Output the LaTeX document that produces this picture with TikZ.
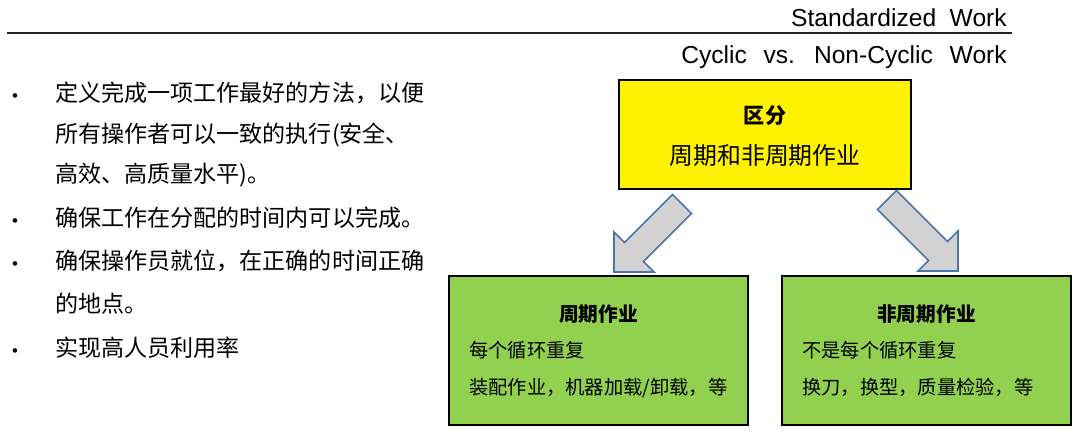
\documentclass[tikz,border=0pt]{standalone}
\usepackage{fontspec}
\setmainfont{Liberation Sans}
\newfontfamily\cjk{Noto Sans CJK SC}
\usepackage{tikz}

\definecolor{boxgreen}{RGB}{146,208,80}
\definecolor{arrowblue}{RGB}{74,118,168}
\newcommand\widesp[1]{\spaceskip=#1 plus 0pt\relax}

\begin{document}
\begin{tikzpicture}[
    x=0.025cm, y=-0.025cm,
    headtxt/.style={
        anchor=base east,
        inner sep=0pt,
        font=\fontsize{17.5}{21}\selectfont
    },
    item/.style={
        anchor=base west,
        inner sep=0pt,
        font=\cjk\fontsize{16.4}{20}\selectfont
    },
    dot/.style={
        anchor=base,
        inner sep=0pt,
        font=\fontsize{12}{14}\selectfont
    },
    topbox/.style={
        rectangle,
        draw=black,
        line width=1.4pt,
        fill=yellow,
        minimum width=7.3cm,
        minimum height=2.725cm
    },
    workbox/.style={
        rectangle,
        draw=black,
        line width=1.4pt,
        fill=boxgreen,
        minimum width=#1,
        minimum height=3.725cm
    },
    boxtitle/.style={
        anchor=base,
        inner sep=0pt,
        font=\cjk\bfseries\fontsize{14}{17}\selectfont
    },
    boxline/.style={
        anchor=base west,
        inner sep=0pt,
        font=\cjk\fontsize{13.7}{17}\selectfont
    },
    blockarr/.style={
        draw=arrowblue,
        line width=1.1pt,
        fill=gray!35
    }
]
\useasboundingbox (0,0) rectangle (1080,434);

% --- header ---
\node[headtxt] (title) at (1007,26) {\widesp{0.55em}Standardized Work};
\coordinate (rule west) at (7,33);
\coordinate (rule east) at (1012,33);
\draw[line width=1.3pt, black!85] (rule west) -- (rule east);
\node[headtxt] (subtitle) at (1007,63) {\widesp{0.68em}Cyclic vs. Non-Cyclic Work};

% --- bullet list ---
\node[dot] (b1) at (15,101) {•};
\node[item] (l1a) at (55,101) {定义完成一项工作最好的方法，以便};
\node[item] (l1b) at (55,142) {所有操作者可以一致的执行(安全、};
\node[item] (l1c) at (55,182) {高效、高质量水平)。};

\node[dot] (b2) at (15,226) {•};
\node[item] (l2a) at (55,226) {确保工作在分配的时间内可以完成。};

\node[dot] (b3) at (15,269) {•};
\node[item] (l3a) at (55,269) {确保操作员就位，在正确的时间正确};
\node[item] (l3b) at (55,312) {的地点。};

\node[dot] (b4) at (15,356) {•};
\node[item] (l4a) at (55,356) {实现高人员利用率};

% --- top box ---
\node[topbox] (split) at (765,134.5) {};
\node[anchor=base, inner sep=0pt, font=\cjk\bfseries\fontsize{15}{18}\selectfont] (splithead) at (765,123) {区分};
\node[anchor=base, inner sep=0pt, font=\cjk\fontsize{17}{20}\selectfont] (splittxt) at (765,164) {周期和非周期作业};

% --- block arrows ---
\coordinate (ltip) at (614,272);
\draw[blockarr] (ltip) -- ++(0,-40) -- ++(10.5,10.5) -- ++(48,-48) -- ++(19,19) -- ++(-48,48) -- ++(10.5,10.5) -- cycle;
\coordinate (rtip) at (958,271);
\draw[blockarr] (rtip) -- ++(0,-40) -- ++(-10.5,10.5) -- ++(-51,-51) -- ++(-19,19) -- ++(51,51) -- ++(-10.5,10.5) -- cycle;

% --- cyclic work ---
\node[workbox=7.475cm] (cyclic) at (598.5,350.5) {};
\node[boxtitle] (cyclichead) at (598.5,321) {周期作业};
\node[boxline] (cyclic1) at (469,357) {每个循环重复};
\node[boxline] (cyclic2) at (469,394) {装配作业，机器加载/卸载，等};

% --- non-cyclic work ---
\node[workbox=7.225cm] (noncyclic) at (926.5,350.5) {};
\node[boxtitle] (noncyclichead) at (926.5,321) {非周期作业};
\node[boxline] (noncyclic1) at (802,357) {不是每个循环重复};
\node[boxline] (noncyclic2) at (802,394) {换刀，换型，质量检验，等};

\end{tikzpicture}
\end{document}
